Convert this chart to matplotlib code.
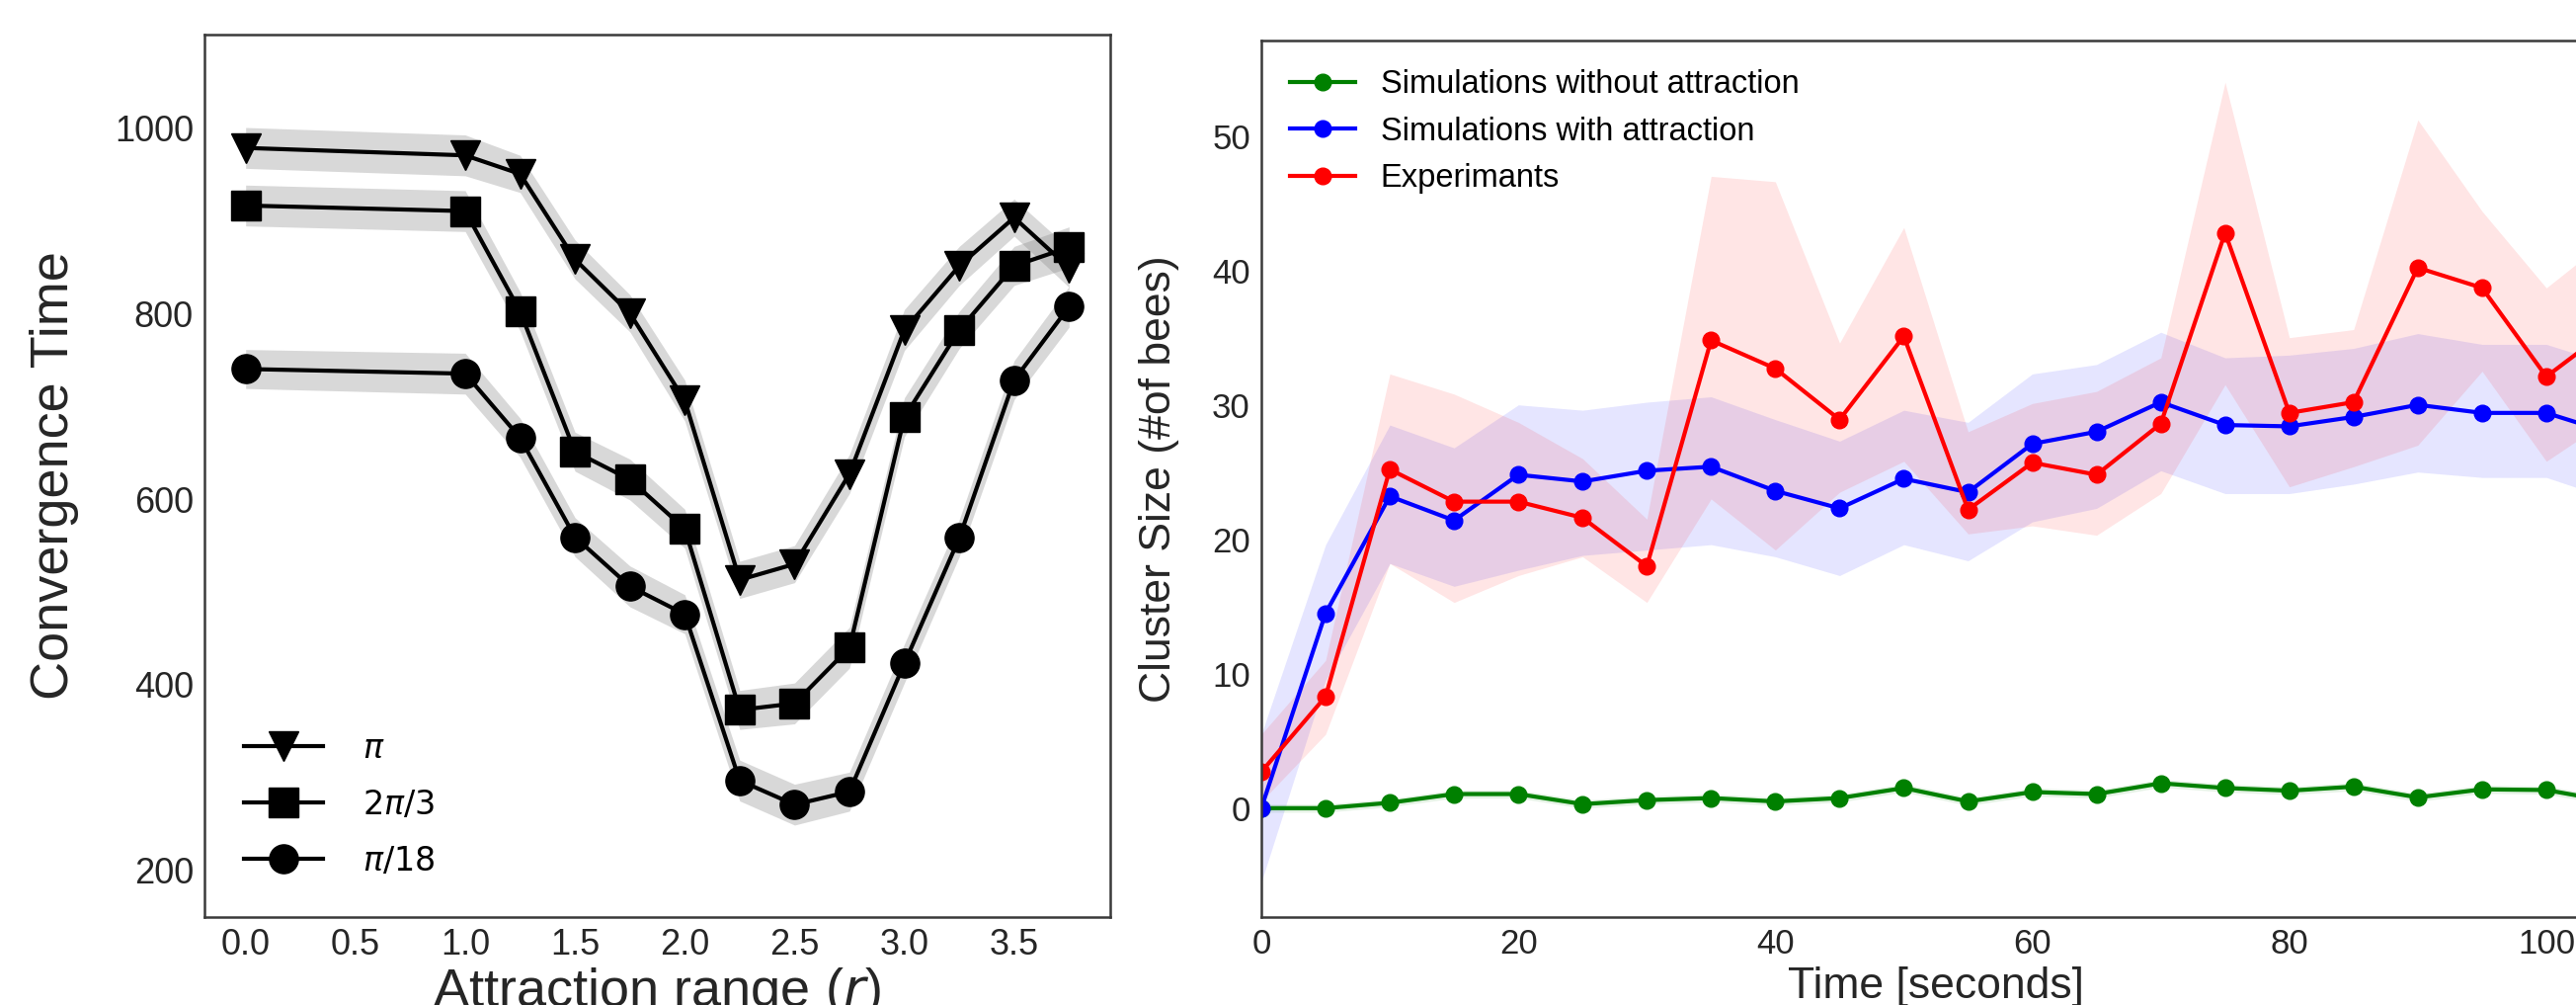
import numpy as np
import matplotlib.pyplot as plt

# ---- left panel: convergence time vs attraction range ----
attr_range = [0.0, 1.0, 1.25, 1.5, 1.75, 2.0, 2.25, 2.5, 2.75, 3.0, 3.25, 3.5, 3.75]
conv_pi = [978, 970, 950, 858, 800, 706, 513, 530, 627, 782, 851, 903, 849]
conv_2pi3 = [916, 910, 802, 651, 621, 568, 373, 380, 440, 688, 782, 851, 871]
conv_pi18 = [740, 735, 666, 559, 506, 476, 297, 271, 285, 423, 558, 728, 807]
err_pi = [22, 22, 20, 21, 20, 22, 20, 20, 21, 22, 21, 20, 21]
err_2pi3 = [22, 22, 21, 21, 22, 21, 21, 22, 22, 21, 20, 21, 22]
err_pi18 = [21, 22, 21, 21, 22, 21, 22, 22, 21, 21, 20, 21, 22]
legend_labels = [r'$\pi$', r'$2\pi/3$', r'$\pi/18$']

# ---- right panel: cluster size over time ----
time_s = [0, 5, 10, 15, 20, 25, 30, 35, 40, 45, 50, 55, 60, 65, 70, 75, 80, 85, 90, 95, 100, 105]
no_attr = [0.0, 0.0, 0.4, 1.05, 1.05, 0.3, 0.6, 0.75, 0.5, 0.75, 1.5, 0.5,
           1.2, 1.05, 1.85, 1.5, 1.3, 1.6, 0.8, 1.4, 1.35, 0.5]
no_attr_lo = [-0.3, -0.3, 0.1, 0.75, 0.75, 0.0, 0.3, 0.45, 0.2, 0.45, 1.2, 0.2,
              0.9, 0.75, 1.55, 1.2, 1.0, 1.3, 0.5, 1.1, 1.05, 0.2]
no_attr_hi = [0.3, 0.3, 0.7, 1.35, 1.35, 0.6, 0.9, 1.05, 0.8, 1.05, 1.8, 0.8,
              1.5, 1.35, 2.15, 1.8, 1.6, 1.9, 1.1, 1.7, 1.65, 0.8]
with_attr = [0.0, 14.5, 23.2, 21.4, 24.8, 24.3, 25.1, 25.4, 23.6, 22.3, 24.5, 23.5,
             27.1, 28.0, 30.2, 28.5, 28.4, 29.1, 30.0, 29.4, 29.4, 27.9]
with_attr_lo = [-5.5, 9.5, 18.2, 16.5, 17.7, 18.8, 19.2, 19.6, 18.7, 17.3, 19.6, 18.4,
                21.3, 22.3, 25.1, 23.4, 23.4, 24.1, 25.0, 24.6, 24.6, 23.0]
with_attr_hi = [5.5, 19.6, 28.5, 26.8, 30.0, 29.6, 30.2, 30.6, 28.9, 27.3, 29.6, 28.7,
                32.3, 33.0, 35.4, 33.5, 33.7, 34.2, 35.3, 34.5, 34.5, 33.0]
experiments = [2.7, 8.3, 25.2, 22.8, 22.8, 21.6, 18.0, 34.8, 32.7, 28.9, 35.1, 22.2,
               25.7, 24.8, 28.6, 42.8, 29.4, 30.2, 40.2, 38.7, 32.1, 35.7]
experiments_lo = [0.5, 5.5, 18.2, 15.3, 17.3, 18.7, 15.3, 23.0, 19.2, 23.5, 25.8, 20.4,
                  21.0, 20.3, 23.4, 31.5, 23.9, 25.4, 27.0, 32.5, 25.8, 29.0]
experiments_hi = [5.5, 11.0, 32.3, 30.8, 28.7, 26.0, 21.5, 47.0, 46.6, 34.6, 43.2, 28.0,
                  30.1, 31.0, 33.5, 54.0, 35.0, 35.6, 51.2, 44.4, 38.7, 42.5]

plt.rcParams['font.family'] = ['Liberation Sans', 'DejaVu Sans']
plt.rcParams['mathtext.fontset'] = 'dejavusans'

W, H = 2608, 1017
fig = plt.figure(figsize=(W / 100, H / 100), dpi=100)
spine_col = '#3a3a3a'
text_col = '#262626'

# left axes
ax1 = fig.add_axes([207 / W, (H - 928) / H, (1124 - 207) / W, (928 - 35) / H])
x = np.array(attr_range)
series = [(conv_pi, err_pi, 'v'), (conv_2pi3, err_2pi3, 's'), (conv_pi18, err_pi18, 'o')]
for (y, e, m), lab in zip(series, legend_labels):
    y = np.array(y)
    e = np.array(e)
    ax1.fill_between(x, y - e, y + e, color='grey', alpha=0.3, linewidth=0)
    ax1.plot(x, y, color='black', marker=m, markersize=21, linewidth=3, label=lab)
ax1.set_ylim(150, 1100)
ax1.set_xlim(-0.1875, 3.9375)
ax1.set_yticks([200, 400, 600, 800, 1000])
ax1.set_xticks([0.0, 0.5, 1.0, 1.5, 2.0, 2.5, 3.0, 3.5])
ax1.set_xticklabels(['0.0', '0.5', '1.0', '1.5', '2.0', '2.5', '3.0', '3.5'])
ax1.tick_params(labelsize=26, length=0, colors=text_col, pad=8)
ax1.set_ylabel('Convergence Time', fontsize=39, color=text_col)
ax1.yaxis.set_label_coords(-0.138, 0.5)
ax1.set_xlabel('Attraction range ($r$)', fontsize=39, color=text_col, labelpad=2)
ax1.legend(loc='lower left', fontsize=24, frameon=False, handlelength=2.4,
           handletextpad=1.2, labelspacing=0.75, borderaxespad=0.8)

# right axes (extends beyond the right edge of the picture)
ax2 = fig.add_axes([1277 / W, (H - 928) / H, 1366 / W, (928 - 41) / H])
t = np.array(time_s)
groups = [
    (no_attr, no_attr_lo, no_attr_hi, 'green', 'Simulations without attraction'),
    (with_attr, with_attr_lo, with_attr_hi, 'blue', 'Simulations with attraction'),
    (experiments, experiments_lo, experiments_hi, 'red', 'Experimants'),
]
for y, lo, hi, c, lab in groups:
    ax2.fill_between(t, lo, hi, color=c, alpha=0.1, linewidth=0)
    ax2.plot(t, y, color=c, marker='o', markersize=12, linewidth=3, label=lab)
ax2.set_xlim(0, 105)
ax2.set_ylim(-8.1, 57.1)
ax2.set_xticks([0, 20, 40, 60, 80, 100])
ax2.set_yticks([0, 10, 20, 30, 40, 50])
ax2.tick_params(labelsize=25, length=0, colors=text_col, pad=8)
ax2.set_ylabel('Cluster Size (#of bees)', fontsize=32, color=text_col)
ax2.yaxis.set_label_coords(-0.061, 0.5)
ax2.set_xlabel('Time [seconds]', fontsize=32, color=text_col, labelpad=4)
ax2.legend(loc='upper left', fontsize=23.5, frameon=False)

for ax in (ax1, ax2):
    for s in ax.spines.values():
        s.set_color(spine_col)
        s.set_linewidth(1.8)

fig.savefig('out.png', dpi=100)
